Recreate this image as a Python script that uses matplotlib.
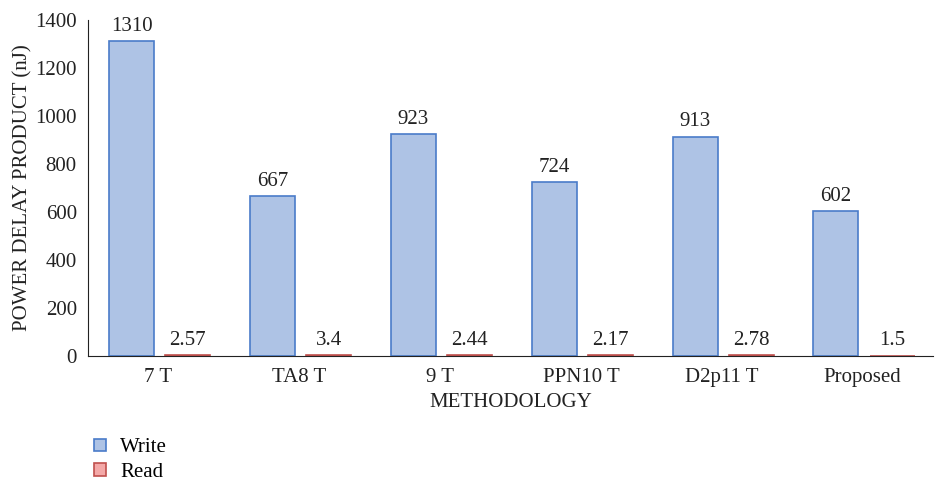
import numpy as np
import matplotlib.pyplot as plt

plt.rcParams['font.family'] = ['Liberation Serif', 'DejaVu Serif']

methods = ['7 T', 'TA8 T', '9 T', 'PPN10 T', 'D2p11 T', 'Proposed']
write_pdp = [1310, 667, 923, 724, 913, 602]
read_pdp = [2.57, 3.4, 2.44, 2.17, 2.78, 1.5]

fig = plt.figure(figsize=(9.35, 4.83), dpi=100)
ax = fig.add_axes([0.094, 0.263, 0.904, 0.696])

x = np.arange(len(methods))
w = 0.32
bw = ax.bar(x - 0.19, write_pdp, w, color='#aec3e5', edgecolor='#4a7cc9',
            linewidth=1.2, label='Write')
br = ax.bar(x + 0.21, read_pdp, w, color='#f4a9a8', edgecolor='#c0504d',
            linewidth=1.2, label='Read')

for bars, vals in ((bw, write_pdp), (br, read_pdp)):
    for b, v in zip(bars, vals):
        ax.text(b.get_x() + b.get_width() / 2, v + 22, f'{v:g}',
                ha='center', va='bottom', fontsize=15, color='#222222')

ax.set_xlim(-0.5, len(methods) - 0.5)
ax.set_ylim(0, 1400)
ax.set_yticks(range(0, 1401, 200))
ax.set_xticks(x)
ax.set_xticklabels(methods)
ax.tick_params(length=0, labelsize=15, colors='#222222')
ax.tick_params(axis='x', pad=9)
ax.tick_params(axis='y', pad=8)
ax.set_xlabel('METHODOLOGY', fontsize=15, color='#222222', labelpad=4)
ax.set_ylabel('POWER DELAY PRODUCT (nJ)', fontsize=15, color='#222222',
              labelpad=2)

for s in ('top', 'right'):
    ax.spines[s].set_visible(False)
ax.spines['left'].set_color('#222222')
ax.spines['bottom'].set_color('#222222')

fig.legend(handles=[bw, br], loc='upper left', bbox_to_anchor=(0.092, 0.11),
           frameon=False, fontsize=15, handlelength=0.55, handleheight=0.55,
           labelspacing=0.28, handletextpad=0.7, borderaxespad=0)

fig.savefig('out.png', dpi=100)
